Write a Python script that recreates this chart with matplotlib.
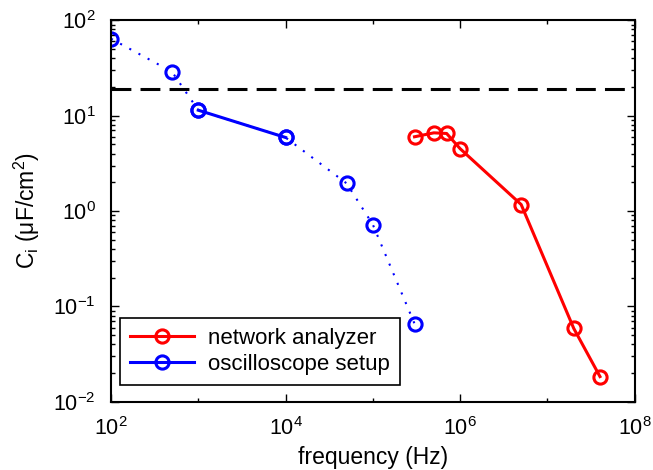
import numpy as np
import matplotlib
matplotlib.use('Agg')
import matplotlib.pyplot as plt

plt.rcParams['font.family'] = ['Liberation Sans', 'DejaVu Sans']
plt.rcParams['mathtext.fontset'] = 'custom'
plt.rcParams['mathtext.rm'] = 'Liberation Sans'

# network analyzer data
na_freq = [3e5, 5e5, 7e5, 1e6, 5e6, 2e7, 4e7]
na_cap = [6.0, 6.6, 6.5, 4.5, 1.17, 0.059, 0.0184]

# oscilloscope data
osc_freq = [1e2, 5e2, 1e3, 1e4, 5e4, 1e5, 3e5]
osc_cap = [64, 28.8, 11.4, 5.9, 1.95, 0.72, 0.066]
# the solid segment (reliable range)
osc_solid_freq = [1e3, 1e4]
osc_solid_cap = [11.4, 5.9]

threshold = 19

fig = plt.figure(figsize=(6.53, 4.70), dpi=100)
ax = fig.add_axes([0.170, 0.145, 0.802, 0.812])

ax.plot(osc_freq, osc_cap, color='blue', linestyle=(0, (1, 4)), linewidth=1.5,
        marker='o', markersize=9.5, markerfacecolor='none',
        markeredgewidth=2.2)
na_line, = ax.plot(na_freq, na_cap, color='red', linewidth=2.2,
                   marker='o', markersize=9.5, markerfacecolor='none',
                   markeredgewidth=2.2, label='network analyzer')
osc_line, = ax.plot(osc_solid_freq, osc_solid_cap, color='blue', linewidth=2.2,
                    marker='o', markersize=9.5, markerfacecolor='none',
                    markeredgewidth=2.2, label='oscilloscope setup')
ax.axhline(threshold, color='black', linestyle=(0, (6.5, 3)), linewidth=2.2)

ax.set_xscale('log')
ax.set_yscale('log')
ax.set_xlim(1e2, 1e8)
ax.set_ylim(1e-2, 1e2)
ax.set_xticks([1e2, 1e4, 1e6, 1e8])
ax.set_yticks([1e-2, 1e-1, 1e0, 1e1, 1e2])

ax.tick_params(which='both', direction='in', top=True, right=True,
               labelsize=15.5, width=1)
ax.tick_params(axis='x', which='both', pad=11)
ax.tick_params(axis='y', which='both', pad=11)
ax.tick_params(which='major', length=6)
ax.tick_params(which='minor', length=3)
ax.xaxis.set_minor_locator(matplotlib.ticker.LogLocator(base=10, subs=[10.0]))
ax.xaxis.set_minor_formatter(matplotlib.ticker.NullFormatter())
for s in ax.spines.values():
    s.set_linewidth(1.5)

ax.set_xlabel('frequency (Hz)', fontsize=16.5, labelpad=4)
ax.set_ylabel(r'C$_\mathregular{i}$ ($\mathregular{\mu}$F/cm$^\mathregular{2}$)',
              fontsize=16.5, labelpad=8)

leg = ax.legend(handles=[na_line, osc_line], loc='lower left', fontsize=16,
                bbox_to_anchor=(0.017, 0.045), borderaxespad=0,
                fancybox=False, edgecolor='black', framealpha=1,
                handlelength=2.9, labelspacing=0.2,
                borderpad=0.45, handletextpad=0.6)
leg.get_frame().set_linewidth(1.2)

fig.savefig('out.png', dpi=100)
